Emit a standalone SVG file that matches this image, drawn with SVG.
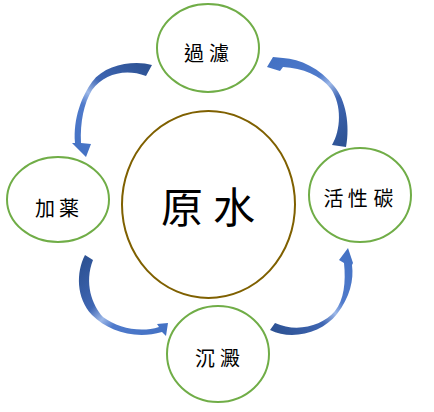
<svg xmlns="http://www.w3.org/2000/svg" xmlns:xlink="http://www.w3.org/1999/xlink" width="434" height="412" viewBox="0 0 434 412">
<style>
.node{fill:#fff;stroke:#70AD47;stroke-width:2}
.core{fill:#fff;stroke:#7F6000;stroke-width:2}
.lbl{font-family:"Noto Sans CJK TC","Noto Sans CJK JP",sans-serif;font-size:20px;fill:#000;text-anchor:middle}
.big{font-size:42px}
</style>
<defs>
<linearGradient id="gb">
<stop offset="0" stop-color="#2E5395"/>
<stop offset="0.35" stop-color="#3F66B3"/>
<stop offset="0.5" stop-color="#9DB8E8"/>
<stop offset="0.62" stop-color="#4F7ACB"/>
<stop offset="1" stop-color="#4472C4"/>
</linearGradient>
<linearGradient id="g1" xlink:href="#gb" gradientUnits="userSpaceOnUse" x1="149" y1="70" x2="86" y2="157"/>
<linearGradient id="g2" xlink:href="#gb" gradientUnits="userSpaceOnUse" x1="339" y1="146" x2="270" y2="64"/>
<linearGradient id="g3" xlink:href="#gb" gradientUnits="userSpaceOnUse" x1="89" y1="257" x2="165" y2="329"/>
<linearGradient id="g4" xlink:href="#gb" gradientUnits="userSpaceOnUse" x1="272" y1="326" x2="348" y2="250"/>
</defs>
<g id="connectors">
<path fill="url(#g1)" d="M152,65 C135,60 105,64 92,82 C82,96 73,118 75,143 L72,143 L86,157 L91,144 L81,143 C80,122 84,103 92,90 C104,74 125,68 146,76 Z"/>
<path fill="url(#g2)" d="M346,147 C350,125 346,100 334,86 C320,68 300,59 283,58 L273,57 L267,67 L280,71 L283,67 C303,68 320,75 331,89 C342,105 341,130 332,145 Z"/>
<path fill="url(#g3)" d="M85,255 C76,272 76,298 92,315 C108,331 135,340 162,332 L166,336 L168,323 L157,324 L159,327 C140,333 118,328 103,317 C92,305 84,283 93,260 Z"/>
<path fill="url(#g4)" d="M270,330 C292,341 322,333 337,314 C350,297 354,280 352,265 L353,263 L348,248 L339,260 L344,263 C346,282 344,300 335,311 C322,326 297,333 275,323 Z"/>
</g>
<g id="core">
<ellipse class="core" cx="208.5" cy="204.5" rx="86.5" ry="93.5"/>
<text class="lbl big" x="182 234" y="223">原水</text>
</g>
<g id="filter">
<ellipse class="node" cx="208" cy="48" rx="51" ry="44"/>
<text class="lbl" x="194 219" y="61">過濾</text>
</g>
<g id="carbon">
<ellipse class="node" cx="360" cy="195" rx="51" ry="47"/>
<text class="lbl" x="333.5 357.7 383.5" y="206">活性碳</text>
</g>
<g id="settle">
<ellipse class="node" cx="218" cy="354" rx="51" ry="48"/>
<text class="lbl" x="205 230" y="366">沉澱</text>
</g>
<g id="dosing">
<ellipse class="node" cx="58" cy="199.5" rx="51" ry="42.5"/>
<text class="lbl" x="45 69" y="215.5">加薬</text>
</g>
</svg>
